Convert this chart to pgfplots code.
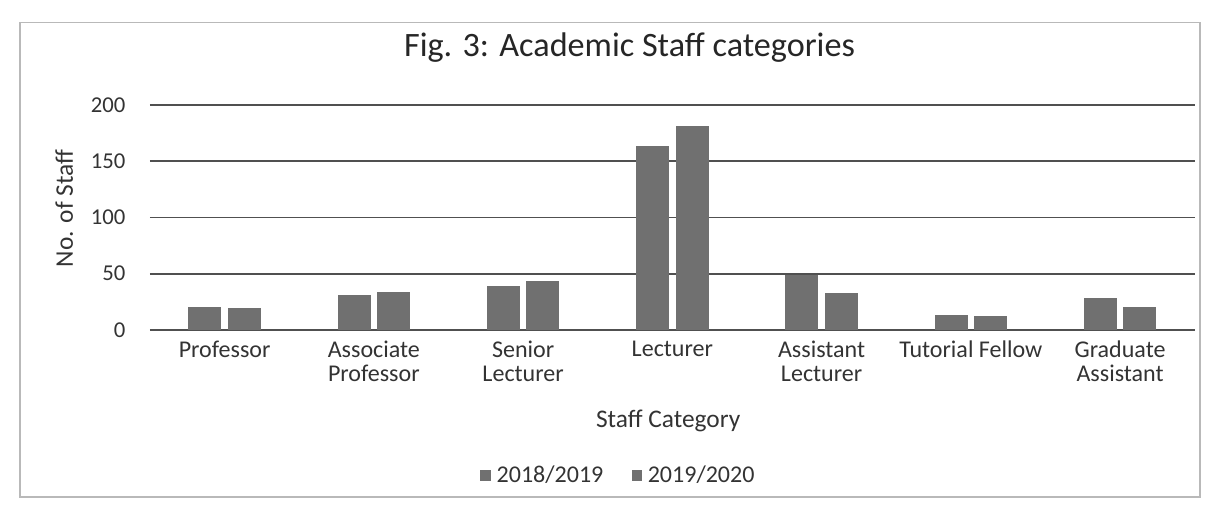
\documentclass[border=0pt]{standalone}
\usepackage{pgfplots}
\pgfplotsset{compat=1.18}
\usepackage{fontspec}
\setmainfont{Carlito}
\definecolor{barc}{RGB}{112,112,112}
\definecolor{gridc}{RGB}{80,80,80}
\begin{document}
\begin{tikzpicture}
\useasboundingbox (-1.974cm,-2.355cm) rectangle (14.03cm,4.342cm);
\draw[gray!55, line width=0.5pt] (-1.711cm,-2.2cm) rectangle (13.82cm,4.05cm);
\begin{axis}[
  scale only axis,
  width=13.75cm, height=2.96cm,
  ybar=0.1cm, bar width=0.42cm,
  ymin=0, ymax=200,
  xmin=-0.5, xmax=6.5,
  ytick={0,50,100,150,200},
  xtick=data,
  xticklabels={Professor, {Associate\\Professor}, {Senior\\Lecturer}, Lecturer, {Assistant\\Lecturer}, Tutorial Fellow, {Graduate\\Assistant}},
  major tick length=0pt,
  axis line style={draw=none},
  ymajorgrids,
  grid style={gridc, line width=0.7pt},
  /pgf/number format/assume math mode=true,
  xticklabel style={font=\fontsize{9}{9}\selectfont, align=center, text=black!80, yshift=-0.02cm},
  yticklabel style={font=\fontsize{8.5}{9.5}\selectfont, text=black!80, xshift=-0.2cm},
  title={Fig. 3: Academic Staff categories},
  title style={font=\fontsize{12.8}{14}\selectfont, text=black!85, at={(axis description cs:0.459,1)}, anchor=center, yshift=0.55cm},
  ylabel={No. of Staff},
  ylabel style={font=\fontsize{9.5}{10}\selectfont, text=black!80, at={(axis description cs:-0.082,0.54)}, anchor=center, rotate=0},
  xlabel={Staff Category},
  xlabel style={font=\fontsize{9.5}{10}\selectfont, text=black!80, at={(axis description cs:0.496,0)}, anchor=center, yshift=-1.2cm},
  legend style={draw=none, fill=none, font=\fontsize{9}{10}\selectfont, text=black!80, at={(axis description cs:0.45,0)}, anchor=center, yshift=-1.92cm, legend columns=2, /tikz/every even column/.append style={column sep=0.3cm}},
  legend image code/.code={\fill[#1] (0cm,-0.06cm) rectangle (0.13cm,0.07cm);},
]
\addplot[fill=barc, draw=barc] coordinates {(0,20) (1,31) (2,39) (3,163) (4,48) (5,13) (6,28)};
\addplot[fill=barc, draw=barc] coordinates {(0,19) (1,33) (2,43) (3,181) (4,32) (5,12) (6,20)};
\legend{2018/2019, 2019/2020}
\end{axis}
\end{tikzpicture}
\end{document}
